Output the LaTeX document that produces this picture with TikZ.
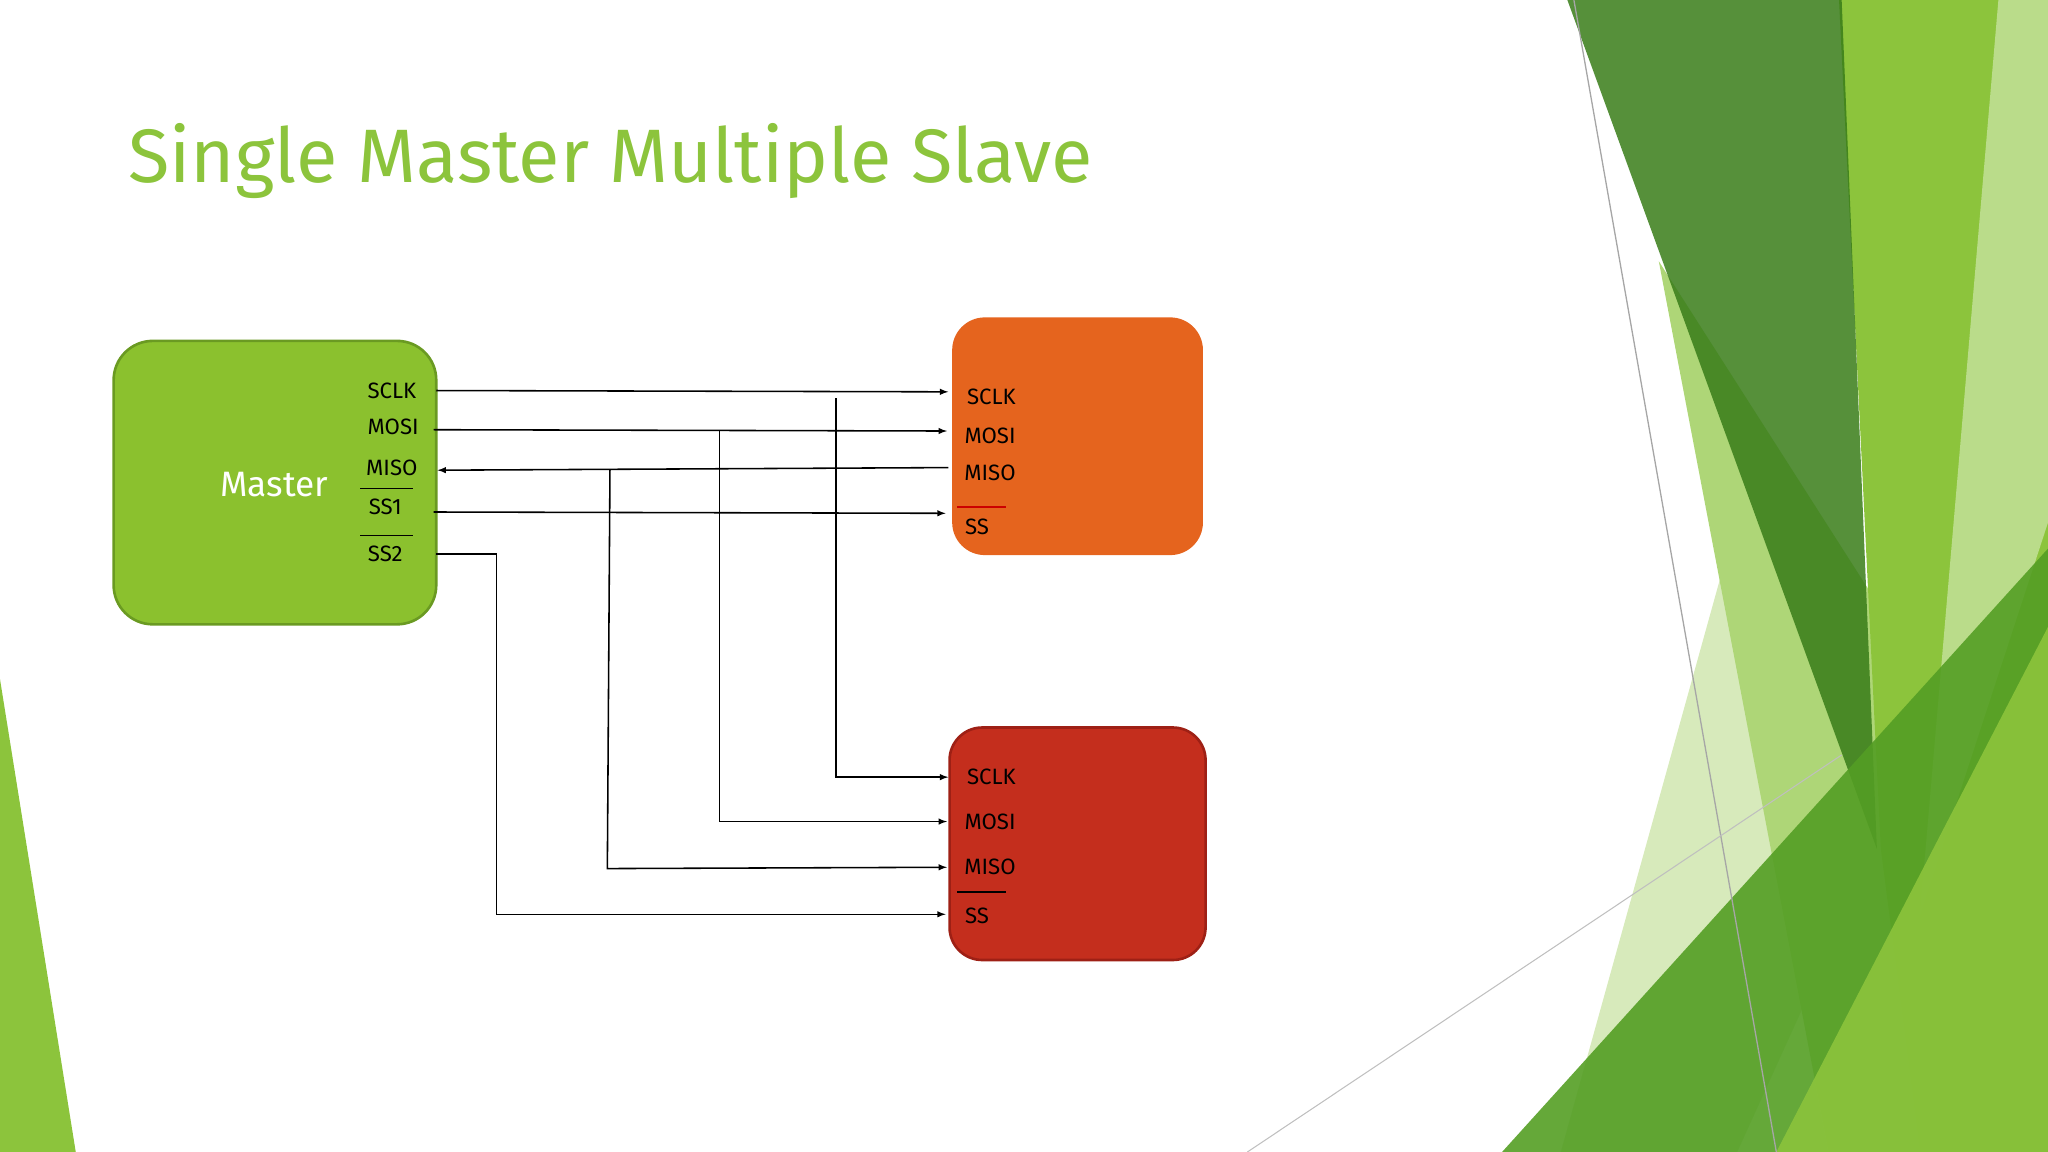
\documentclass[tikz,border=0pt]{standalone}
\usepackage{fontspec}
\setmainfont{Fira Sans}
\definecolor{ttl}{HTML}{8CC43C}
\definecolor{mfill}{HTML}{8BC12E}
\definecolor{mdraw}{HTML}{6A9A22}
\definecolor{ofill}{HTML}{E5641E}
\definecolor{rfill}{HTML}{C42E1D}
\definecolor{rdraw}{HTML}{9E2015}
\begin{document}
\begin{tikzpicture}[x=1pt,y=-1pt,
  lbl/.style={font=\fontsize{17}{17}\selectfont,inner sep=0pt},
  wire/.style={draw=black,line width=1.2pt},
  arr/.style={wire,-latex}]
\useasboundingbox (0,0) rectangle (1568,882);
% background decorations
\fill[ttl] (0,520) -- (58,882) -- (0,882) -- cycle;
\fill[ttl!35] (1195,882) -- (1340,360) -- (1440,640) -- (1330,882) -- cycle;
\fill[ttl!70] (1270,200) -- (1500,560) -- (1568,882) -- (1400,882) -- cycle;
\fill[ttl] (1408,0) -- (1568,0) -- (1568,882) -- (1470,882) -- (1440,650) -- cycle;
\fill[ttl!60!white] (1530,0) -- (1568,0) -- (1568,400) -- (1470,700) -- cycle;
\fill[green!30!black!60!ttl,opacity=0.85] (1200,0) -- (1410,0) -- (1437,650) -- cycle;
\fill[green!40!black!40!ttl,opacity=0.9] (1150,882) -- (1568,420) -- (1568,882) -- cycle;
\fill[ttl,opacity=0.9] (1360,882) -- (1568,480) -- (1568,882) -- cycle;
\draw[gray!70,line width=1pt] (1205,0) -- (1360,882);
\draw[gray!50,line width=0.8pt] (955,882) -- (1410,578);
% title
\node[anchor=base west,inner sep=0pt,text=ttl,font=\fontsize{58}{58}\selectfont] (title) at (98,140) {Single Master Multiple Slave};
% boxes
\node[draw=mdraw,fill=mfill,line width=2pt,rounded corners=30pt,minimum width=247pt,minimum height=217pt] (master) at (210.5,369.5) {};
\node[text=white,font=\fontsize{27}{27}\selectfont] (mtext) at (210,371) {Master};
\node[fill=ofill,rounded corners=25pt,minimum width=192pt,minimum height=182pt] (slave1) at (825,334) {};
\node[draw=rdraw,fill=rfill,line width=2pt,rounded corners=25pt,minimum width=196pt,minimum height=178pt] (slave2) at (825,646) {};
% master labels
\node[lbl] (mclk) at (300,299) {SCLK};
\node[lbl] (mmosi) at (301,327) {MOSI};
\node[lbl] (mmiso) at (300,358) {MISO};
\node[lbl] (mss1) at (295,388) {SS1};
\node[lbl] (mss2) at (295,424) {SS2};
\draw[line width=1.3pt] (276,374) -- (316,374);
\draw[line width=1.3pt] (276,410) -- (316,410);
% slave1 labels
\node[lbl] (aclk) at (759,304) {SCLK};
\node[lbl] (amosi) at (758,334) {MOSI};
\node[lbl] (amiso) at (758,362) {MISO};
\node[lbl] (ass) at (748,403) {SS};
\draw[red!80!black,line width=1.5pt] (733,388) -- (770,388);
% slave2 labels
\node[lbl] (bclk) at (759,595) {SCLK};
\node[lbl] (bmosi) at (758,629) {MOSI};
\node[lbl] (bmiso) at (758,664) {MISO};
\node[lbl] (bss) at (748,701) {SS};
\draw[line width=1.3pt] (733,683) -- (770,683);
% coordinates
\coordinate (p1) at (334,299); \coordinate (q1) at (726,300);
\coordinate (p2) at (332,329); \coordinate (q2) at (725,330);
\coordinate (p3) at (335,360); \coordinate (q3) at (726,358);
\coordinate (p4) at (332,392); \coordinate (q4) at (724,393);
\coordinate (p5) at (334,424);
\coordinate (r1) at (726,595); \coordinate (r2) at (725,629);
\coordinate (r3) at (725,664); \coordinate (r4) at (724,700);
% wires
\draw[arr] (p1) -- (q1);
\draw[arr] (p2) -- (q2);
\draw[arr] (q3) -- (p3);
\draw[arr] (p4) -- (q4);
\draw[arr] (640,305) -- (640,595) -- (r1);
\draw[arr] (551,330) -- (551,629) -- (r2);
\draw[arr] (467,360) -- (465,665) -- (r3);
\draw[arr] (p5) -- (380,424) -- (380,700) -- (r4);
\end{tikzpicture}
\end{document}
